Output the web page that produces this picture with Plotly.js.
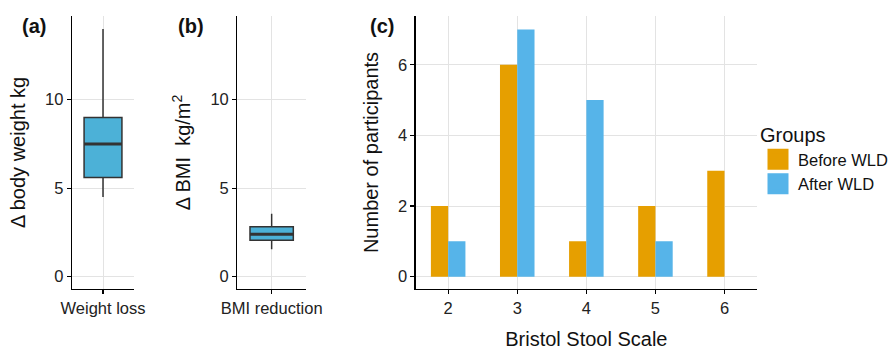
<!DOCTYPE html>
<html>
<head>
<meta charset="utf-8">
<script src="https://cdn.plot.ly/plotly-3.0.1.min.js"></script>
<style>html,body{margin:0;padding:0;background:#fff;}#chart{width:893px;height:350px;}</style>
</head>
<body>
<div id="chart"></div>
<script>
// ---- data ----
// box statistics: [lowerfence, q1, median, q3, upperfence]
const weightLossStats = [4.5, 5.6, 7.5, 9.0, 14.0];
const bmiStats = [1.55, 2.05, 2.4, 2.82, 3.55];
const bristolScale = [2, 3, 4, 5, 6];
const beforeWLD = [2, 6, 1, 2, 3];
const afterWLD = [1, 7, 5, 1, 0];
const groupNames = ['Before WLD', 'After WLD'];
const groupColors = ['#E69F00', '#56B4E9'];
const boxLabels = ['Weight loss', 'BMI reduction'];

const FONT = 'Liberation Sans, Arial, sans-serif';
const BOXFILL = '#4CB1D7';
const BOXLINE = '#333333';
const GRID = '#e3e3e3';

function boxTrace(stats, xa, ya, w) {
  return {
    type: 'box', x: [0], xaxis: xa, yaxis: ya,
    lowerfence: [stats[0]], q1: [stats[1]], median: [stats[2]], q3: [stats[3]], upperfence: [stats[4]],
    width: w, fillcolor: BOXFILL, line: {color: BOXLINE, width: 1.5},
    whiskerwidth: 0, boxpoints: false, showlegend: false, hoverinfo: 'skip'
  };
}
function medianTrace(stats, xa, ya, w) {
  return {
    type: 'scatter', mode: 'lines', x: [-w / 2, w / 2], y: [stats[2], stats[2]],
    xaxis: xa, yaxis: ya, line: {color: BOXLINE, width: 3}, showlegend: false, hoverinfo: 'skip'
  };
}
function barTrace(i, vals) {
  return {type: 'bar', name: groupNames[i], legendgroup: groupNames[i], showlegend: false,
    x: bristolScale, y: vals, xaxis: 'x3', yaxis: 'y3', marker: {color: groupColors[i]}, hoverinfo: 'skip'};
}
// legend key (square swatch) for each group
function legendKey(i) {
  return {type: 'scatter', mode: 'markers', name: groupNames[i], legendgroup: groupNames[i],
    x: [null], y: [null], xaxis: 'x3', yaxis: 'y3', hoverinfo: 'skip',
    marker: {symbol: 'square', size: 16, color: groupColors[i], line: {color: groupColors[i], width: 5}}};
}

const wA = 0.61, wB = 0.63;
const data = [
  boxTrace(weightLossStats, 'x', 'y', wA),
  medianTrace(weightLossStats, 'x', 'y', wA),
  boxTrace(bmiStats, 'x2', 'y2', wB),
  medianTrace(bmiStats, 'x2', 'y2', wB),
  barTrace(0, beforeWLD),
  barTrace(1, afterWLD),
  legendKey(0),
  legendKey(1)
];

const yDom = [0.1743, 0.9543];
const common = {
  showline: true, linecolor: '#000', linewidth: 1.2, ticks: 'outside', ticklen: 4, tickwidth: 1.1,
  tickcolor: '#000', showgrid: true, gridcolor: GRID, gridwidth: 1, zeroline: false,
  tickfont: {family: FONT, size: 16.5, color: '#222'}, fixedrange: true
};
function ax(extra) { return Object.assign({}, common, extra); }
const titleFont = {family: FONT, size: 20, color: '#111'};

const layout = {
  width: 893, height: 350,
  margin: {l: 0, r: 0, t: 0, b: 0},
  paper_bgcolor: '#fff', plot_bgcolor: '#fff',
  font: {family: FONT, color: '#111'},
  barmode: 'group', bargap: 0.5, bargroupgap: 0,
  xaxis: ax({domain: [0.0806, 0.1501], anchor: 'y', range: [-0.5, 0.5], tickvals: [0], ticktext: [boxLabels[0]]}),
  yaxis: ax({domain: yDom, anchor: 'x', range: [-0.7, 14.73], tickvals: [0, 5, 10],
    title: {text: '\u0394 body weight kg', font: titleFont, standoff: 14}}),
  xaxis2: ax({domain: [0.2657, 0.3427], anchor: 'y2', range: [-0.5, 0.5], tickvals: [0], ticktext: [boxLabels[1]]}),
  yaxis2: ax({domain: yDom, anchor: 'x2', range: [-0.7, 14.73], tickvals: [0, 5, 10],
    title: {text: '\u0394 BMI  kg/m<sup>2</sup>', font: titleFont, standoff: 14}}),
  xaxis3: ax({domain: [0.4655, 0.8477], anchor: 'y3', range: [1.53, 6.47], tickvals: bristolScale,
    title: {text: 'Bristol Stool Scale', font: titleFont, standoff: 18}}),
  yaxis3: ax({domain: yDom, anchor: 'x3', range: [-0.35, 7.38], tickvals: [0, 2, 4, 6],
    title: {text: 'Number of participants', font: titleFont, standoff: 14}}),
  legend: {x: 1, y: 1 - 116 / 350, xanchor: 'right', yanchor: 'top', bgcolor: 'rgba(0,0,0,0)',
    borderwidth: 0,
    title: {text: 'Groups', font: titleFont},
    font: {family: FONT, size: 16.5, color: '#111'}, tracegroupgap: 0, itemsizing: 'trace'},
  annotations: [
    {text: '<b>(a)</b>', x: 34 / 893, y: 1 - 26 / 350},
    {text: '<b>(b)</b>', x: 191 / 893, y: 1 - 26 / 350},
    {text: '<b>(c)</b>', x: 382 / 893, y: 1 - 26 / 350}
  ].map(a => Object.assign({xref: 'paper', yref: 'paper', showarrow: false, xanchor: 'center', yanchor: 'middle',
    font: {family: FONT, size: 20, color: '#111'}}, a))
};

Plotly.newPlot('chart', data, layout, {staticPlot: true, displayModeBar: false});
</script>
</body>
</html>
